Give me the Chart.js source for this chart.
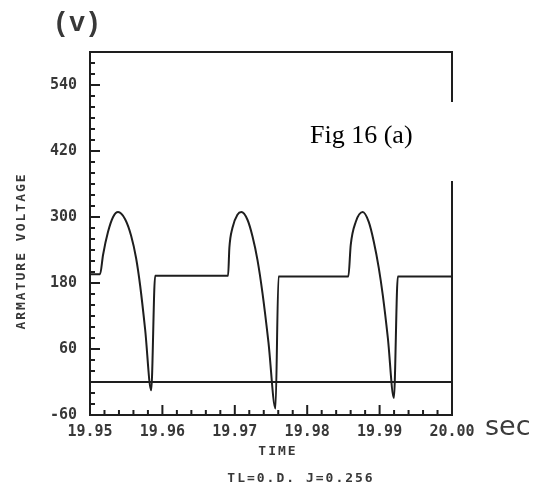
<!DOCTYPE html>
<html>
<head>
<meta charset="utf-8">
<script src="https://cdn.jsdelivr.net/npm/chart.js@4.4.1/dist/chart.umd.min.js"></script>
<style>
  html, body { margin: 0; padding: 0; background: #ffffff; }
  #wrap { width: 540px; height: 491px; position: relative; }
</style>
</head>
<body>
<div id="wrap"><canvas id="c" width="540" height="491"></canvas></div>
<script>
// Armature voltage waveform (time in s, voltage in V)
const timeSec = [
  19.95000, 19.95139, 19.95180, 19.95249, 19.95319, 19.95388,
  19.95485, 19.95568, 19.95637, 19.95693, 19.95762, 19.95845,
  19.95900, 19.96907,
  19.96925, 19.96967, 19.97036, 19.97091,
  19.97175, 19.97244, 19.97313, 19.97382, 19.97465, 19.97562,
  19.97604, 19.98569,
  19.98601, 19.98670, 19.98767,
  19.98850, 19.98920, 19.98989, 19.99044, 19.99114, 19.99197,
  19.99252, 20.00000
];
const armatureVolts = [
  196, 196, 231, 273, 300, 309,
  296, 266, 225, 175, 95, -15,
  193, 193,
  244, 280, 304, 309,
  295, 265, 222, 162, 72, -48,
  192, 192,
  249, 291, 309,
  291, 255, 207, 158, 80, -29,
  192, 192
];

// Zero reference trace
const zeroTime = [19.95, 20.00];
const zeroVolts = [0, 0];

// Labelled tick positions
const yLabelValues = [-60, 60, 180, 300, 420, 540];
const xLabelValues = [19.95, 19.96, 19.97, 19.98, 19.99, 20.00];

const INK = '#1e1e1e';
const TEXT = '#383838';

function toPoints(xs, ys) {
  return xs.map((x, i) => ({ x: x, y: ys[i] }));
}

function isXLabel(v) {
  return xLabelValues.some(l => Math.abs(l - v) < 1e-6);
}
function isYLabel(v) {
  return yLabelValues.some(l => Math.abs(l - v) < 1e-6);
}

// Frame, inward tick marks, caption box and free text
const decorations = {
  id: 'decorations',
  afterDraw(chart) {
    const ctx = chart.ctx;
    const a = chart.chartArea;
    const xs = chart.scales.x;
    const ys = chart.scales.y;

    ctx.save();
    ctx.strokeStyle = INK;
    ctx.lineWidth = 2;
    ctx.lineCap = 'square';
    ctx.strokeRect(a.left, a.top, a.right - a.left, a.bottom - a.top);

    // tick marks pointing into the plot
    ctx.lineCap = 'butt';
    ctx.lineWidth = 2;
    ys.ticks.forEach(t => {
      const py = ys.getPixelForValue(t.value);
      const len = isYLabel(t.value) ? 10 : 5;
      ctx.beginPath();
      ctx.moveTo(a.left, py);
      ctx.lineTo(a.left + len, py);
      ctx.stroke();
    });
    xs.ticks.forEach(t => {
      const px = xs.getPixelForValue(t.value);
      const len = isXLabel(t.value) ? 10 : 5;
      ctx.beginPath();
      ctx.moveTo(px, a.bottom);
      ctx.lineTo(px, a.bottom - len);
      ctx.stroke();
    });

    // caption box over the right edge
    ctx.fillStyle = '#ffffff';
    ctx.fillRect(300, 102, 162, 79);
    ctx.fillStyle = '#000000';
    ctx.font = '26px "Liberation Serif"';
    ctx.textAlign = 'left';
    ctx.textBaseline = 'alphabetic';
    ctx.fillText('Fig 16 (a)', 310, 143);

    // unit labels
    ctx.fillStyle = TEXT;
    ctx.font = 'bold 27px "Liberation Mono"';
    ctx.textAlign = 'center';
    ctx.textBaseline = 'middle';
    ctx.fillText('(v)', 77, 24);

    ctx.fillStyle = '#3c3c3c';
    ctx.font = '27px "DejaVu Sans"';
    ctx.textAlign = 'left';
    ctx.textBaseline = 'alphabetic';
    ctx.fillText('sec', 485, 435);

    // axis titles and run parameters
    ctx.fillStyle = TEXT;
    ctx.font = 'bold 13px "DejaVu Sans Mono"';
    ctx.letterSpacing = '2px';
    ctx.textAlign = 'center';
    ctx.textBaseline = 'middle';
    ctx.fillText('TIME', 278, 452);
    ctx.fillText('TL=0.D. J=0.256', 301, 479);

    ctx.translate(22, 251);
    ctx.rotate(-Math.PI / 2);
    ctx.fillText('ARMATURE VOLTAGE', 0, 0);
    ctx.restore();
  }
};

new Chart(document.getElementById('c'), {
  type: 'line',
  data: {
    datasets: [
      {
        label: 'Armature voltage',
        data: toPoints(timeSec, armatureVolts),
        borderColor: INK,
        borderWidth: 2,
        pointRadius: 0,
        fill: false,
        cubicInterpolationMode: 'monotone'
      },
      {
        label: 'Zero',
        data: toPoints(zeroTime, zeroVolts),
        borderColor: INK,
        borderWidth: 2,
        pointRadius: 0,
        fill: false
      }
    ]
  },
  options: {
    responsive: false,
    animation: false,
    devicePixelRatio: 1,
    layout: { padding: { left: 0, top: 52, right: 88, bottom: 0 } },
    plugins: {
      legend: { display: false },
      tooltip: { enabled: false },
      title: { display: false }
    },
    scales: {
      x: {
        type: 'linear',
        min: 19.95,
        max: 20.00,
        grid: { display: false, drawTicks: false },
        border: { display: false },
        ticks: {
          stepSize: 0.002,
          autoSkip: false,
          maxRotation: 0,
          padding: 8,
          color: TEXT,
          font: { family: 'DejaVu Sans Mono', size: 15, weight: 'bold' },
          callback: (v) => isXLabel(v) ? Number(v).toFixed(2) : ''
        },
        afterFit: (s) => { s.height = 76; }
      },
      y: {
        type: 'linear',
        min: -60,
        max: 600,
        grid: { display: false, drawTicks: false },
        border: { display: false },
        ticks: {
          stepSize: 20,
          autoSkip: false,
          padding: 13,
          color: TEXT,
          font: { family: 'DejaVu Sans Mono', size: 15, weight: 'bold' },
          callback: (v) => isYLabel(v) ? String(v) : ''
        },
        afterFit: (s) => { s.width = 90; }
      }
    }
  },
  plugins: [decorations]
});
</script>
</body>
</html>
